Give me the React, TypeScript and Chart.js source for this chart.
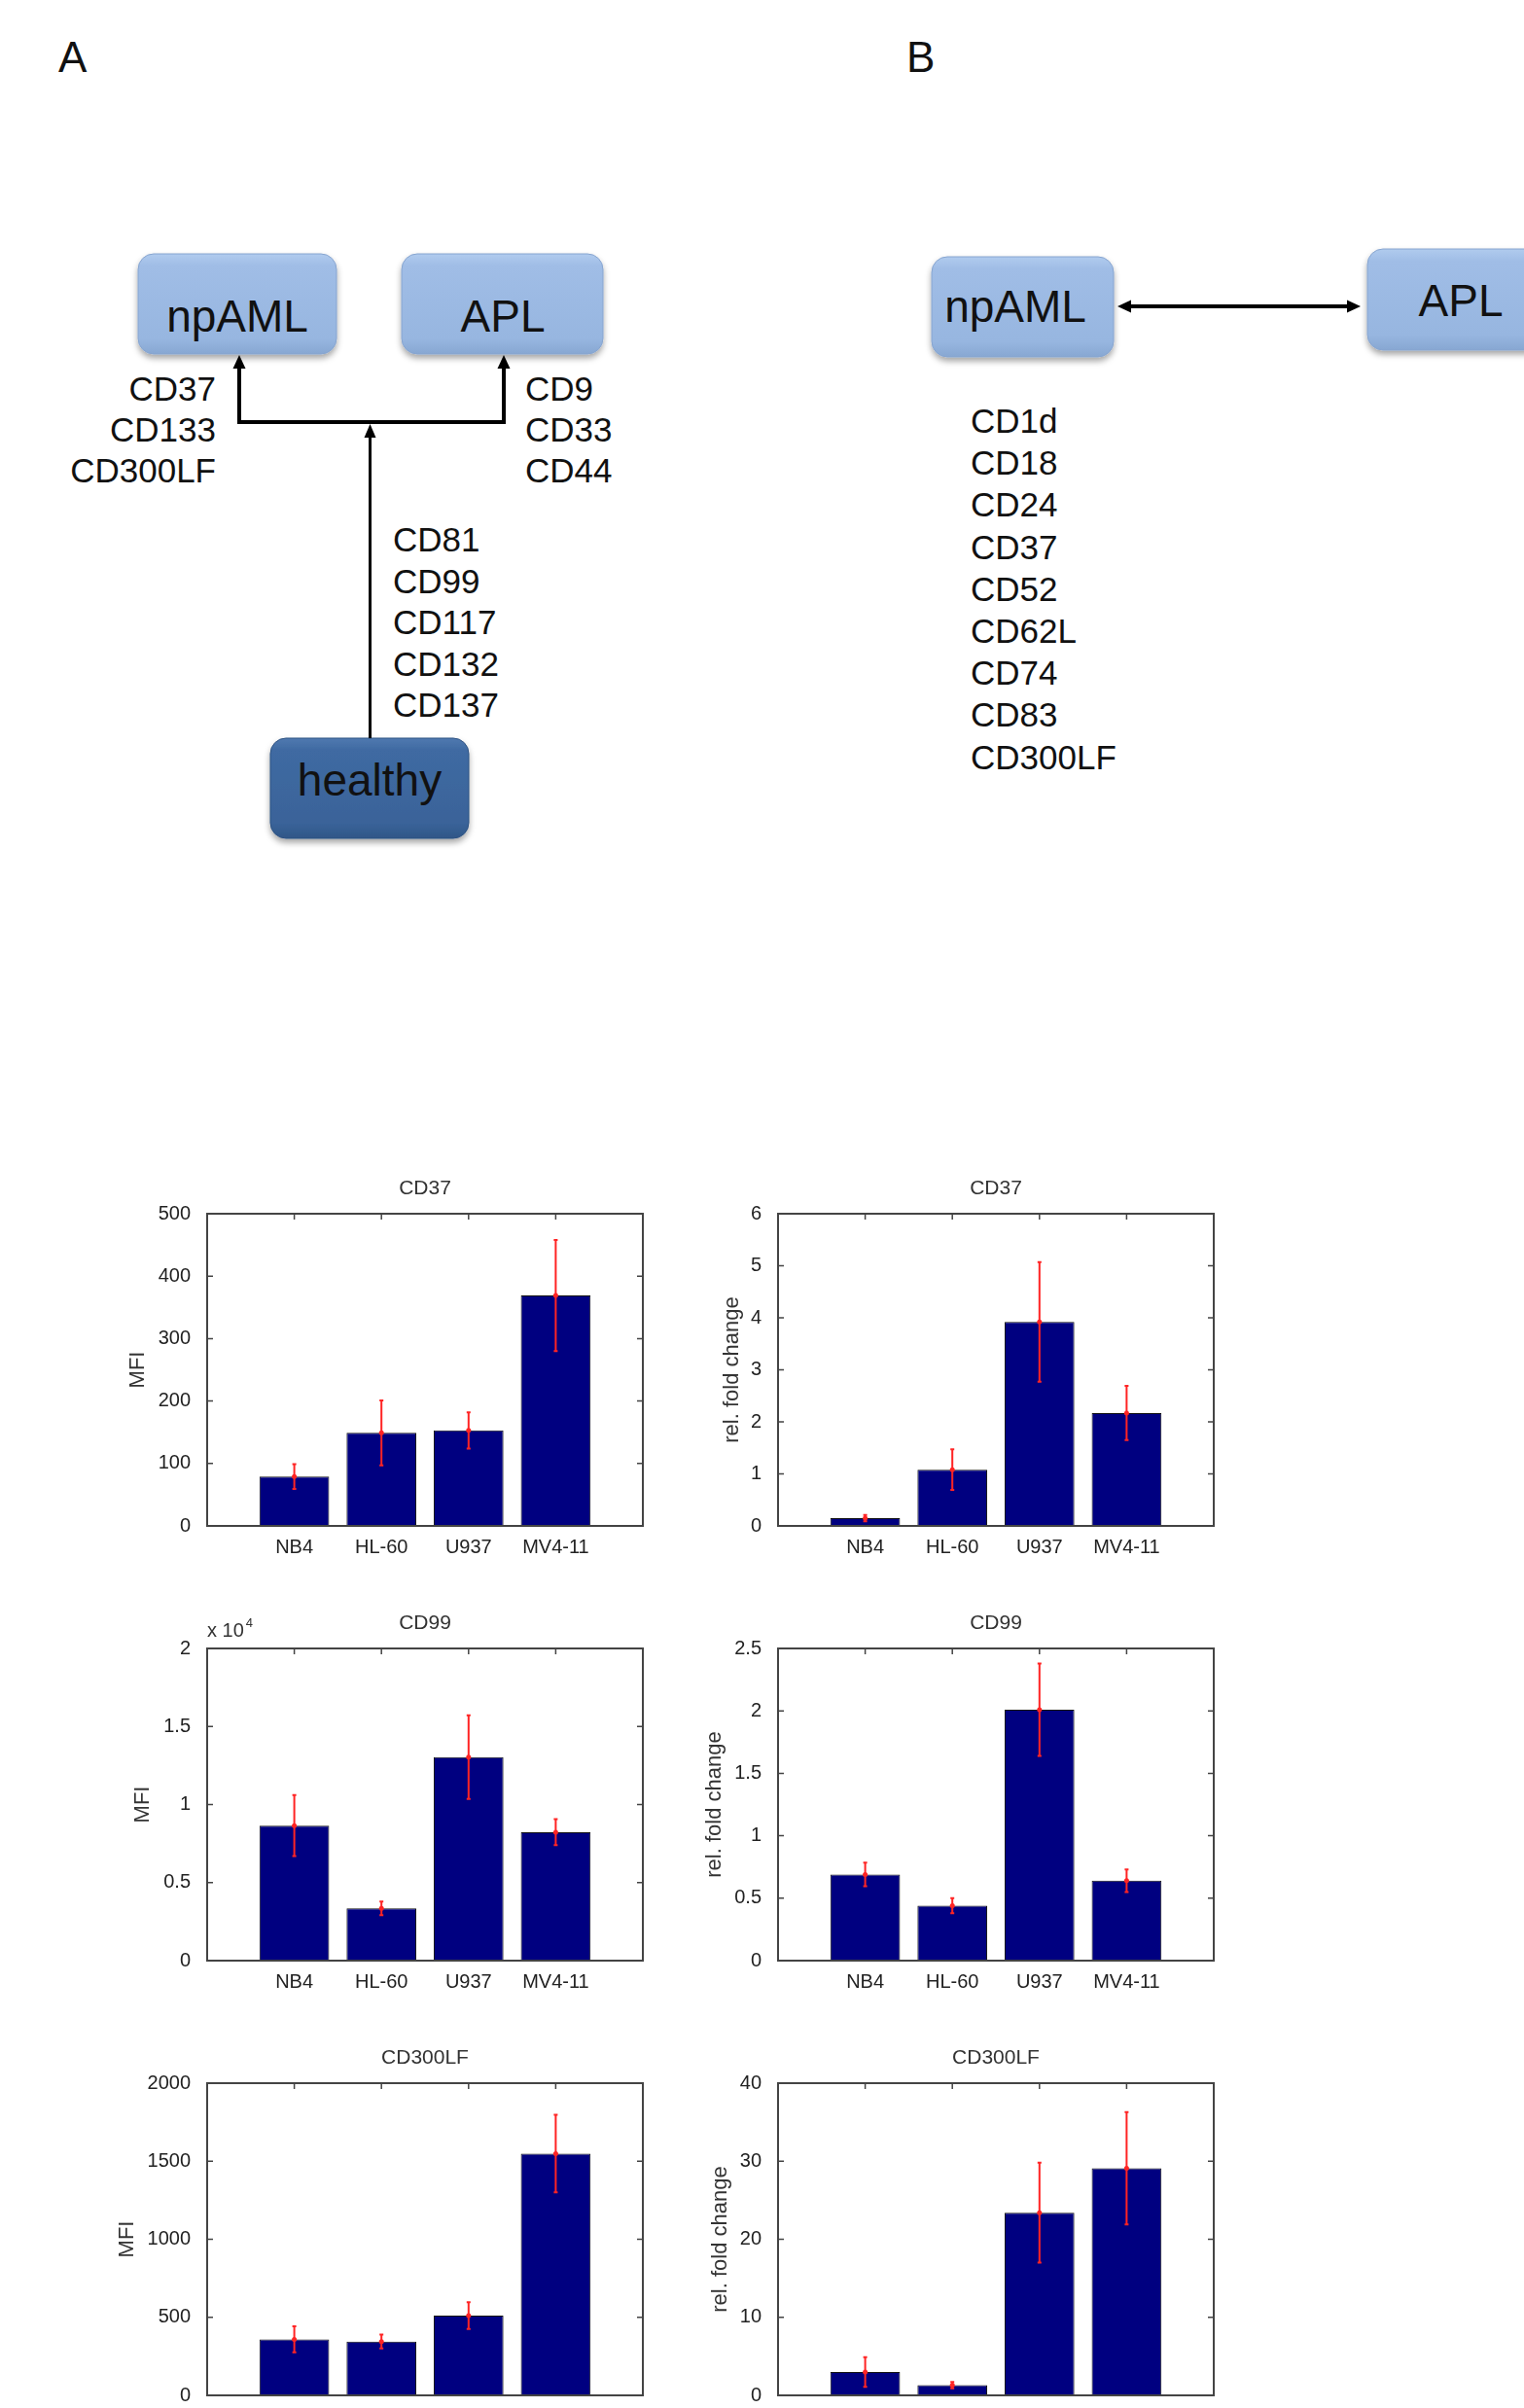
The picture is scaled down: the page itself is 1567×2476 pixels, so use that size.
import React, { useEffect, useRef } from 'react';
import { Chart, registerables } from 'chart.js';

Chart.register(...registerables);

const FONT = "'Liberation Sans', Arial, sans-serif";
Chart.defaults.font.family = FONT;

// ---------------- data ----------------
const cellLines = ['NB4', 'HL-60', 'U937', 'MV4-11'];

const cd37Mfi = [79, 149, 153, 369];
const cd37MfiErr = [20, 52, 29, 89];
const cd37Fold = [0.15, 1.08, 3.92, 2.17];
const cd37FoldErr = [0.06, 0.39, 1.15, 0.52];

const cd99Mfi = [8650, 3350, 13040, 8230];
const cd99MfiErr = [1950, 440, 2680, 830];
const cd99Fold = [0.69, 0.44, 2.01, 0.64];
const cd99FoldErr = [0.095, 0.06, 0.37, 0.09];

const cd300lfMfi = [359, 345, 511, 1549];
const cd300lfMfiErr = [83, 44, 86, 249];
const cd300lfFold = [3.0, 1.3, 23.4, 29.1];
const cd300lfFoldErr = [1.9, 0.4, 6.4, 7.2];

const panelALeftMarkers = ['CD37', 'CD133', 'CD300LF'];
const panelARightMarkers = ['CD9', 'CD33', 'CD44'];
const panelAHealthyMarkers = ['CD81', 'CD99', 'CD117', 'CD132', 'CD137'];
const panelBMarkers = ['CD1d', 'CD18', 'CD24', 'CD37', 'CD52', 'CD62L', 'CD74', 'CD83', 'CD300LF'];

// ---------------- bar panel ----------------
type PanelProps = {
  title: string;
  ylabel: string;
  values: number[];
  errors: number[];
  yMax: number;
  step: number;
  fmt: (v: number) => string;
  L: number; T: number; R: number; B: number;
  yPad: number;
  exponent?: string;
};

function BarPanel(p: PanelProps) {
  const ref = useRef<HTMLCanvasElement>(null);
  const x0 = p.L - 110, y0 = p.T - 60, w = p.R - p.L + 130, h = p.B - p.T + 120;

  useEffect(() => {
    const deco = {
      id: 'matlabDeco',
      afterDatasetsDraw(chart: any) {
        const { ctx, chartArea: a, scales } = chart;
        const ys = scales.y, xs = scales.x;
        const meta = chart.getDatasetMeta(0);
        ctx.save();
        // error bars
        ctx.strokeStyle = '#ff2424';
        ctx.fillStyle = '#ff2424';
        ctx.lineWidth = 2;
        meta.data.forEach((el: any, i: number) => {
          const cx = el.x;
          const yt = ys.getPixelForValue(p.values[i] + p.errors[i]);
          const yb = ys.getPixelForValue(Math.max(0, p.values[i] - p.errors[i]));
          ctx.beginPath();
          ctx.moveTo(cx, yt); ctx.lineTo(cx, yb);
          ctx.moveTo(cx - 2, yt); ctx.lineTo(cx + 2, yt);
          ctx.moveTo(cx - 2, yb); ctx.lineTo(cx + 2, yb);
          ctx.stroke();
          ctx.beginPath();
          ctx.arc(cx, ys.getPixelForValue(p.values[i]), 2.5, 0, Math.PI * 2);
          ctx.fill();
        });
        // frame
        ctx.strokeStyle = '#444';
        ctx.lineWidth = 2;
        ctx.strokeRect(a.left, a.top, a.right - a.left, a.bottom - a.top);
        ctx.lineWidth = 1.5;
        ctx.beginPath();
        ys.ticks.forEach((t: any) => {
          const py = ys.getPixelForValue(t.value);
          ctx.moveTo(a.left, py); ctx.lineTo(a.left + 6, py);
          ctx.moveTo(a.right, py); ctx.lineTo(a.right - 6, py);
        });
        xs.ticks.forEach((t: any) => {
          const px = xs.getPixelForValue(t.value);
          ctx.moveTo(px, a.top); ctx.lineTo(px, a.top + 6);
        });
        ctx.stroke();
        // title
        ctx.fillStyle = '#333';
        ctx.font = `21px ${FONT}`;
        ctx.textAlign = 'center';
        ctx.textBaseline = 'middle';
        ctx.fillText(p.title, (a.left + a.right) / 2, a.top - 26);
        if (p.exponent) {
          ctx.textAlign = 'left';
          ctx.textBaseline = 'alphabetic';
          ctx.font = `20px ${FONT}`;
          const base = 'x 10';
          ctx.fillText(base, a.left, a.top - 12);
          const bw = ctx.measureText(base).width;
          ctx.font = `13px ${FONT}`;
          ctx.fillText(p.exponent, a.left + bw + 2, a.top - 22);
        }
        ctx.restore();
      },
    };

    const chart = new Chart(ref.current!, {
      type: 'bar',
      data: {
        datasets: [
          {
            data: cellLines.map((c, i) => ({ x: i + 1, y: p.values[i] })),
            backgroundColor: '#000080',
            borderColor: '#111',
            borderWidth: 1,
            barPercentage: 0.8,
            categoryPercentage: 1,
          },
        ],
      },
      options: {
        responsive: false,
        animation: false,
        devicePixelRatio: 1,
        layout: { padding: { top: 60, right: 20, left: 0, bottom: 0 } },
        plugins: { legend: { display: false }, tooltip: { enabled: false } },
        scales: {
          x: {
            type: 'linear',
            min: 0,
            max: 5,
            offset: false,
            grid: { display: false },
            border: { display: false },
            afterBuildTicks: (s: any) => {
              s.ticks = cellLines.map((c, i) => ({ value: i + 1 }));
            },
            afterFit: (s: any) => { s.height = 60; },
            ticks: {
              callback: (v: any) => cellLines[Number(v) - 1] ?? '',
              font: { size: 20 },
              color: '#222',
              padding: 2,
              maxRotation: 0,
              autoSkip: false,
            },
          },
          y: {
            type: 'linear',
            min: 0,
            max: p.yMax,
            grid: { display: false },
            border: { display: false },
            afterFit: (s: any) => { s.width = 110; },
            ticks: {
              stepSize: p.step,
              callback: (v: any) => p.fmt(Number(v)),
              font: { size: 20 },
              color: '#222',
              padding: 9,
            },
            title: {
              display: true,
              text: p.ylabel,
              font: { size: 22 },
              color: '#333',
              padding: { top: p.yPad, bottom: 0 },
            },
          },
        },
      } as any,
      plugins: [deco],
    });
    return () => chart.destroy();
  }, []);

  return (
    <canvas
      ref={ref}
      width={w}
      height={h}
      style={{ position: 'absolute', left: x0, top: y0, width: w, height: h }}
    />
  );
}

// ---------------- diagram ----------------
function Diagram() {
  const txt = { fontFamily: FONT, fill: '#111' } as any;
  return (
    <svg width={1567} height={900} style={{ position: 'absolute', left: 0, top: 0 }}>
      <defs>
        <linearGradient id="lightBox" x1="0" y1="0" x2="0" y2="1">
          <stop offset="0" stopColor="#b0cbee" />
          <stop offset="0.12" stopColor="#a0bde6" />
          <stop offset="0.85" stopColor="#97b6e0" />
          <stop offset="1" stopColor="#87a7d2" />
        </linearGradient>
        <linearGradient id="darkBox" x1="0" y1="0" x2="0" y2="1">
          <stop offset="0" stopColor="#5079b0" />
          <stop offset="0.12" stopColor="#3f6aa2" />
          <stop offset="0.85" stopColor="#3a6399" />
          <stop offset="1" stopColor="#2f5687" />
        </linearGradient>
        <filter id="shadow" x="-20%" y="-20%" width="140%" height="150%">
          <feDropShadow dx="0" dy="4" stdDeviation="3" floodColor="#000" floodOpacity="0.35" />
        </filter>
      </defs>

      <text x={60} y={74} fontSize={44} {...txt}>A</text>
      <text x={932} y={74} fontSize={44} {...txt}>B</text>

      {/* Panel A */}
      <rect x={142} y={261} width={204} height={103} rx={16} fill="url(#lightBox)" stroke="#86a4cf" strokeWidth={1} filter="url(#shadow)" />
      <rect x={413} y={261} width={207} height={103} rx={16} fill="url(#lightBox)" stroke="#86a4cf" strokeWidth={1} filter="url(#shadow)" />
      <rect x={278} y={759} width={204} height={103} rx={16} fill="url(#darkBox)" stroke="#2d5282" strokeWidth={1} filter="url(#shadow)" />
      <text x={244} y={341} fontSize={46} textAnchor="middle" {...txt}>npAML</text>
      <text x={517} y={341} fontSize={46} textAnchor="middle" {...txt}>APL</text>
      <text x={380} y={818} fontSize={46} textAnchor="middle" {...txt}>healthy</text>

      <path d="M246 372 V434 H518 V372" stroke="#000" strokeWidth={4} fill="none" />
      <polygon points="246,365 239.5,379 252.5,379" fill="#000" />
      <polygon points="518,365 511.5,379 524.5,379" fill="#000" />
      <line x1={380.5} y1={759} x2={380.5} y2={446} stroke="#000" strokeWidth={3} />
      <polygon points="380.5,436 374.5,450 386.5,450" fill="#000" />

      {panelALeftMarkers.map((m, i) => (
        <text key={m} x={222} y={412 + i * 42.2} fontSize={35} textAnchor="end" {...txt}>{m}</text>
      ))}
      {panelARightMarkers.map((m, i) => (
        <text key={m} x={540} y={412 + i * 42.2} fontSize={35} {...txt}>{m}</text>
      ))}
      {panelAHealthyMarkers.map((m, i) => (
        <text key={m} x={404} y={567 + i * 42.6} fontSize={35} {...txt}>{m}</text>
      ))}

      {/* Panel B */}
      <rect x={958} y={264} width={187} height={103} rx={16} fill="url(#lightBox)" stroke="#86a4cf" strokeWidth={1} filter="url(#shadow)" />
      <rect x={1406} y={256} width={210} height={104} rx={16} fill="url(#lightBox)" stroke="#86a4cf" strokeWidth={1} filter="url(#shadow)" />
      <text x={1044} y={331} fontSize={46} textAnchor="middle" {...txt}>npAML</text>
      <text x={1502} y={325} fontSize={46} textAnchor="middle" {...txt}>APL</text>
      <line x1={1158} y1={315} x2={1390} y2={315} stroke="#000" strokeWidth={4} />
      <polygon points="1149,315 1163,308.5 1163,321.5" fill="#000" />
      <polygon points="1399,315 1385,308.5 1385,321.5" fill="#000" />
      {panelBMarkers.map((m, i) => (
        <text key={m + i} x={998} y={445 + i * 43.2} fontSize={35} {...txt}>{m}</text>
      ))}
    </svg>
  );
}

const plain = (v: number) => String(Math.round(v * 1000) / 1000);
const per1e4 = (v: number) => String(Math.round((v / 1e4) * 1000) / 1000);

export default function App() {
  return (
    <div
      style={{
        position: 'absolute',
        left: 0,
        top: 0,
        width: 1567,
        height: 2476,
        overflow: 'hidden',
        background: '#fff',
      }}
    >
      <Diagram />
      <BarPanel title="CD37" ylabel="MFI" values={cd37Mfi} errors={cd37MfiErr} yMax={500} step={100} fmt={plain}
        L={213} T={1248} R={661} B={1569} yPad={26} />
      <BarPanel title="CD37" ylabel="rel. fold change" values={cd37Fold} errors={cd37FoldErr} yMax={6} step={1} fmt={plain}
        L={800} T={1248} R={1248} B={1569} yPad={50} />
      <BarPanel title="CD99" ylabel="MFI" values={cd99Mfi} errors={cd99MfiErr} yMax={20000} step={5000} fmt={per1e4}
        L={213} T={1695} R={661} B={2016} yPad={31} exponent="4" />
      <BarPanel title="CD99" ylabel="rel. fold change" values={cd99Fold} errors={cd99FoldErr} yMax={2.5} step={0.5} fmt={plain}
        L={800} T={1695} R={1248} B={2016} yPad={32} />
      <BarPanel title="CD300LF" ylabel="MFI" values={cd300lfMfi} errors={cd300lfMfiErr} yMax={2000} step={500} fmt={plain}
        L={213} T={2142} R={661} B={2463} yPad={15} />
      <BarPanel title="CD300LF" ylabel="rel. fold change" values={cd300lfFold} errors={cd300lfFoldErr} yMax={40} step={10} fmt={plain}
        L={800} T={2142} R={1248} B={2463} yPad={38} />
    </div>
  );
}
